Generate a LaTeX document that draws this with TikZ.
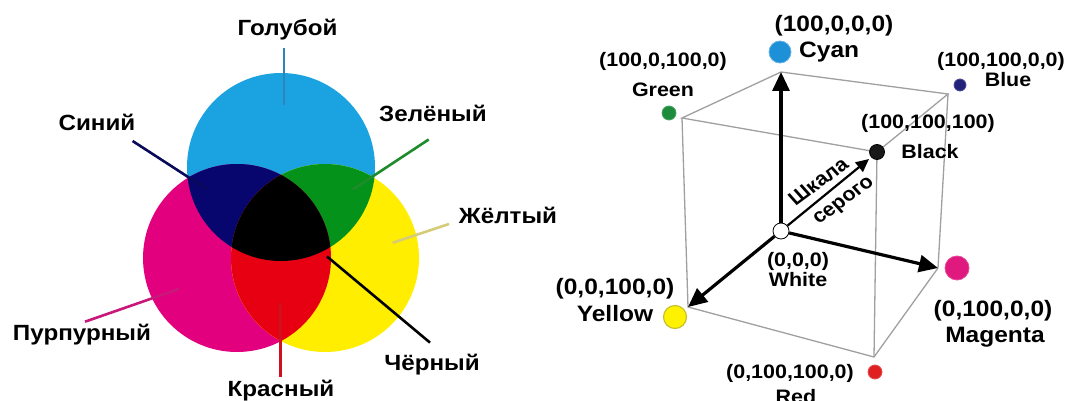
\documentclass[tikz,border=0pt]{standalone}
\usepackage{fontspec}
\setmainfont{Liberation Sans}
\usetikzlibrary{arrows.meta}
\definecolor{cyanC}{HTML}{1AA3E0}
\definecolor{magC}{HTML}{E3007E}
\definecolor{yelC}{HTML}{FFEE00}
\definecolor{bluC}{HTML}{06066E}
\definecolor{grnC}{HTML}{04921A}
\definecolor{redC}{HTML}{E60012}
\definecolor{ldCyan}{HTML}{2E86B8}
\definecolor{ldBlue}{HTML}{0A0A5A}
\definecolor{ldGreen}{HTML}{1E8C2A}
\definecolor{ldYel}{HTML}{D6CC78}
\definecolor{ldRed}{HTML}{D0101E}
\definecolor{ldMag}{HTML}{C8187A}
\definecolor{cubeC}{HTML}{A0A0A0}
\definecolor{dCyan}{HTML}{1E90D8}
\definecolor{dGreen}{HTML}{1C8C3C}
\definecolor{dBlue}{HTML}{22227A}
\definecolor{dMag}{HTML}{E0197E}
\definecolor{dYel}{HTML}{FFF200}
\definecolor{dYelO}{HTML}{C8C030}
\definecolor{dRed}{HTML}{E02020}
\begin{document}
\begin{tikzpicture}[x=1pt,y=-1pt,
  ru/.style={font=\fontsize{22}{24}\selectfont\bfseries, xscale=1.1, inner sep=0pt, text height=15.8pt, text depth=0pt},
  big/.style={font=\fontsize{22.3}{24}\selectfont\bfseries, xscale=1.1, inner sep=0pt, text height=16pt, text depth=0pt},
  small/.style={font=\fontsize{19.5}{22}\selectfont\bfseries, xscale=1.1, inner sep=0pt, text height=14pt, text depth=0pt},
  dotn/.style={circle, inner sep=0pt, line width=0.8pt},
  cubeedge/.style={draw=cubeC, line width=1.3pt},
  arr/.style={line width=3.2pt, -{Triangle[length=19pt,width=17pt]}},
  garr/.style={line width=2.2pt, -{Triangle[length=13pt,width=12pt]}},
  lead/.style={line width=2.6pt}
]
\fill[white] (0,0) rectangle (1076,401);
\useasboundingbox (0,0) rectangle (1076,401);

% ---------- Venn ----------
\coordinate (cC) at (281,167);
\coordinate (cM) at (237,258);
\coordinate (cY) at (325,258);
\fill[cyanC] (cC) circle (94pt);
\fill[magC] (cM) circle (94pt);
\fill[yelC] (cY) circle (94pt);
\begin{scope}\clip (cC) circle (94pt); \fill[bluC] (cM) circle (94pt); \end{scope}
\begin{scope}\clip (cC) circle (94pt); \fill[grnC] (cY) circle (94pt); \end{scope}
\begin{scope}\clip (cM) circle (94pt); \fill[redC] (cY) circle (94pt); \end{scope}
\begin{scope}\clip (cC) circle (94pt); \clip (cM) circle (94pt); \fill[black] (cY) circle (94pt); \end{scope}

% leader lines
\coordinate (golA) at (284,48);   \coordinate (golB) at (284,105);
\coordinate (sinA) at (132.6,141); \coordinate (sinB) at (206.6,189);
\coordinate (zelA) at (428.7,139.5); \coordinate (zelB) at (353,189.4);
\coordinate (zheA) at (449,224); \coordinate (zheB) at (392.6,242.8);
\coordinate (cheA) at (327,256.5); \coordinate (cheB) at (430,342.6);
\coordinate (kraA) at (280.6,303); \coordinate (kraB) at (280.6,377);
\coordinate (purA) at (85,321.7); \coordinate (purB) at (179,289);
\draw[lead, ldCyan] (golA) -- (golB);
\draw[lead, ldBlue] (sinA) -- (sinB);
\draw[lead, ldGreen] (zelA) -- (zelB);
\draw[lead, ldYel] (zheA) -- (zheB);
\draw[lead, black] (cheA) -- (cheB);
\draw[lead, ldRed] (kraA) -- (kraB);
\draw[lead, ldMag] (purA) -- (purB);

\node[ru] (tGol) at (287.5,28) {Голубой};
\node[ru] (tSin) at (97,123) {Синий};
\node[ru] (tZel) at (433,114) {Зелёный};
\node[ru] (tZhe) at (508,216) {Жёлтый};
\node[ru] (tChe) at (432,363) {Чёрный};
\node[ru] (tKra) at (281,389) {Красный};
\node[ru] (tPur) at (82,333) {Пурпурный};

% ---------- Cube ----------
\coordinate (A) at (682,118);
\coordinate (B) at (781,72);
\coordinate (C) at (948,94);
\coordinate (D) at (877,152);
\coordinate (E) at (688,307);
\coordinate (F) at (874,357);
\coordinate (G) at (938,268);
\coordinate (gs) at (869,159);
\draw[cubeedge] (A) -- (B) -- (C) -- (D) -- cycle;
\draw[cubeedge] (A) -- (E) -- (F) -- (G) -- (C);
\draw[cubeedge] (D) -- (F);

\node[dotn, draw=black, fill=white, minimum size=16pt] (wd) at (781,231) {};
\draw[arr] (wd) -- (B);
\draw[arr] (wd) -- (G);
\draw[arr] (wd) -- (E);
\draw[garr] (wd) -- (gs);

\node[dotn, draw=dCyan!70!white, fill=dCyan, minimum size=22pt] (dC) at (780,52) {};
\node[dotn, draw=dGreen!80!white, fill=dGreen, minimum size=14pt] (dG) at (669,113) {};
\node[dotn, draw=dBlue!80!white, fill=dBlue, minimum size=12pt] (dB) at (960,85) {};
\node[dotn, draw=black, fill=black!90, minimum size=15pt] (dK) at (877,152) {};
\node[dotn, draw=dMag!80!white, fill=dMag, minimum size=24pt] (dM) at (957,268) {};
\node[dotn, draw=dYelO, fill=dYel, minimum size=23pt, line width=1.2pt] (dY) at (675,317) {};
\node[dotn, draw=dRed!80!white, fill=dRed, minimum size=14pt] (dR) at (875,372) {};

\node[big] (lC1) at (834,24) {(100,0,0,0)};
\node[big, anchor=west] (lC2) at (799,50) {Cyan};
\node[small] (lG1) at (663,60) {(100,0,100,0)};
\node[small] (lG2) at (663,90) {Green};
\node[small] (lB1) at (1001,60) {(100,100,0,0)};
\node[small] (lB2) at (1008,80) {Blue};
\node[small] (lK1) at (928,122) {(100,100,100)};
\node[small] (lK2) at (930,151) {Black};
\node[small] (lW1) at (798,259) {(0,0,0)};
\node[small] (lW2) at (798,279) {White};
\node[big] (lM1) at (993,308) {(0,100,0,0)};
\node[big] (lM2) at (995,334) {Magenta};
\node[big] (lY1) at (615,286) {(0,0,100,0)};
\node[big] (lY2) at (615,313) {Yellow};
\node[small] (lR1) at (790,371) {(0,100,100,0)};
\node[small] (lR2) at (796,396) {Red};
\node[small, rotate=39] (sk1) at (818,181) {Шкала};
\node[small, rotate=39] (sk2) at (842,199) {серого};
\end{tikzpicture}
\end{document}
